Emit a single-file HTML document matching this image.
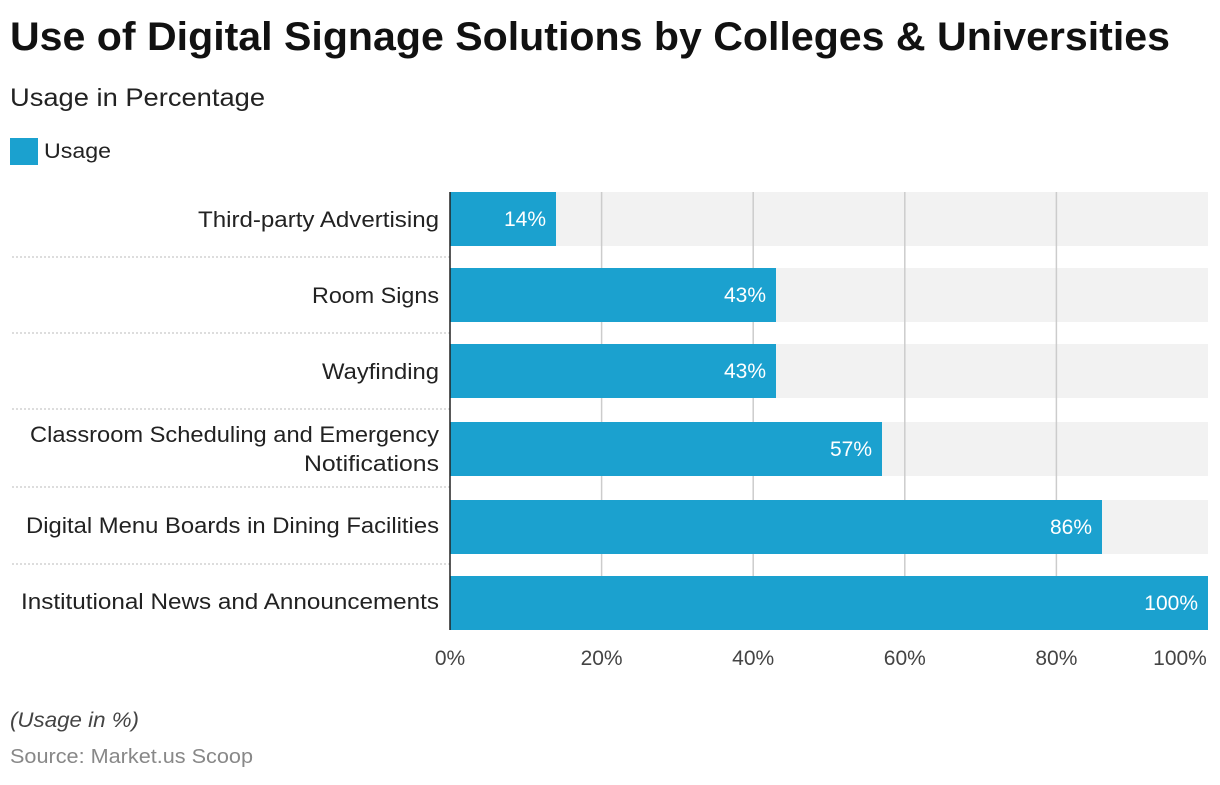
<!DOCTYPE html>
<html><head><meta charset="utf-8"><style>
body{margin:0;width:1220px;height:780px;background:#fff;font-family:"Liberation Sans",Roboto,sans-serif;overflow:hidden}
</style></head><body>
<svg width="1220" height="780" xmlns="http://www.w3.org/2000/svg" font-family="Liberation Sans, sans-serif">
<text x="10" y="50" font-size="40" font-weight="bold" fill="#111" textLength="1160" lengthAdjust="spacingAndGlyphs">Use of Digital Signage Solutions by Colleges &amp; Universities</text>
<text x="10" y="106" font-size="25" fill="#222" textLength="255" lengthAdjust="spacingAndGlyphs">Usage in Percentage</text>
<rect x="10" y="138" width="28" height="27" fill="#1ba1cf"/>
<text x="44" y="158" font-size="21" fill="#222" textLength="67" lengthAdjust="spacingAndGlyphs">Usage</text>
<g fill="#f2f2f2">
<rect x="450" y="192" width="758" height="54"/><rect x="450" y="268" width="758" height="54"/>
<rect x="450" y="344" width="758" height="54"/><rect x="450" y="422" width="758" height="54"/>
<rect x="450" y="500" width="758" height="54"/><rect x="450" y="576" width="758" height="54"/>
</g>
<g stroke="#ccc" stroke-width="1.5">
<line x1="601.6" y1="192" x2="601.6" y2="630"/><line x1="753.2" y1="192" x2="753.2" y2="630"/>
<line x1="904.8" y1="192" x2="904.8" y2="630"/><line x1="1056.4" y1="192" x2="1056.4" y2="630"/>
</g>
<g stroke="#bbb" stroke-width="1" stroke-dasharray="2,2">
<line x1="12" y1="257" x2="450" y2="257"/><line x1="12" y1="333" x2="450" y2="333"/>
<line x1="12" y1="409" x2="450" y2="409"/><line x1="12" y1="487" x2="450" y2="487"/>
<line x1="12" y1="564" x2="450" y2="564"/>
</g>
<g fill="#1ba1cf">
<rect x="450" y="192" width="106" height="54"/><rect x="450" y="268" width="326" height="54"/>
<rect x="450" y="344" width="326" height="54"/><rect x="450" y="422" width="432" height="54"/>
<rect x="450" y="500" width="652" height="54"/><rect x="450" y="576" width="758" height="54"/>
</g>
<line x1="450" y1="192" x2="450" y2="630" stroke="#222" stroke-width="1.5"/>
<g font-size="21" fill="#fff" text-anchor="end">
<text x="546" y="226">14%</text><text x="766" y="302">43%</text><text x="766" y="378">43%</text>
<text x="872" y="456">57%</text><text x="1092" y="534">86%</text><text x="1198" y="610">100%</text>
</g>
<g font-size="22" fill="#222" lengthAdjust="spacingAndGlyphs">
<text x="198" y="227" textLength="241" lengthAdjust="spacingAndGlyphs">Third-party Advertising</text>
<text x="312" y="303" textLength="127" lengthAdjust="spacingAndGlyphs">Room Signs</text>
<text x="322" y="379" textLength="117" lengthAdjust="spacingAndGlyphs">Wayfinding</text>
<text x="30" y="442" textLength="409" lengthAdjust="spacingAndGlyphs">Classroom Scheduling and Emergency</text>
<text x="304" y="471" textLength="135" lengthAdjust="spacingAndGlyphs">Notifications</text>
<text x="26" y="533" textLength="413" lengthAdjust="spacingAndGlyphs">Digital Menu Boards in Dining Facilities</text>
<text x="21" y="609" textLength="418" lengthAdjust="spacingAndGlyphs">Institutional News and Announcements</text>
</g>
<g font-size="21" fill="#444" text-anchor="middle">
<text x="450" y="665">0%</text><text x="601.6" y="665">20%</text><text x="753.2" y="665">40%</text>
<text x="904.8" y="665">60%</text><text x="1056.4" y="665">80%</text><text x="1180" y="665">100%</text>
</g>
<text x="10" y="727" font-size="21" font-style="italic" fill="#444" textLength="129" lengthAdjust="spacingAndGlyphs">(Usage in %)</text>
<text x="10" y="763" font-size="20" fill="#888" textLength="243" lengthAdjust="spacingAndGlyphs">Source: Market.us Scoop</text>
</svg>
</body></html>
